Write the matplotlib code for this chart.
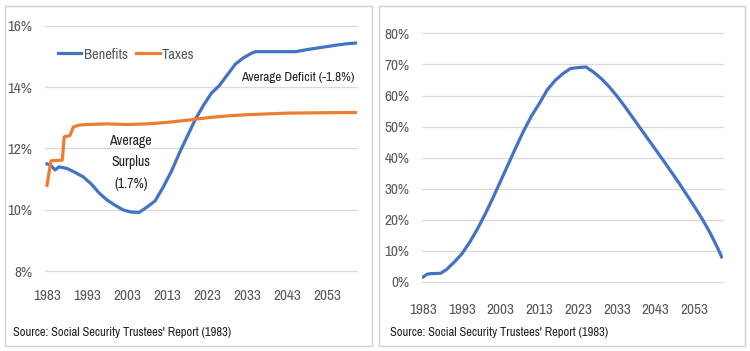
import matplotlib.pyplot as plt
from matplotlib.patches import Rectangle
from matplotlib.ticker import FuncFormatter

plt.rcParams['font.family'] = ['Archivo Narrow', 'DejaVu Sans']

# painel esquerdo: beneficios e impostos (% da folha tributavel)
anos_ben = [1983, 1984, 1985, 1986, 1988, 1990, 1992, 1994, 1996, 1998, 2000, 2002, 2004, 2006,
            2008, 2010, 2012, 2014, 2016, 2018, 2020, 2022, 2024, 2026, 2028, 2030, 2032, 2034,
            2035, 2040, 2045, 2048, 2052, 2055, 2058, 2060]
beneficios = [11.5, 11.45, 11.3, 11.4, 11.35, 11.22, 11.08, 10.85, 10.55, 10.32, 10.15, 10.0, 9.93, 9.92,
              10.1, 10.3, 10.75, 11.25, 11.85, 12.4, 12.95, 13.4, 13.8, 14.05, 14.4, 14.75, 14.95, 15.1,
              15.15, 15.15, 15.15, 15.22, 15.3, 15.36, 15.41, 15.43]

anos_imp = [1983, 1984, 1986.8, 1987.3, 1988.7, 1989.6, 1991, 1993, 1998, 2003, 2008, 2013, 2018,
            2023, 2028, 2033, 2043, 2050, 2060]
impostos = [10.8, 11.6, 11.62, 12.38, 12.42, 12.7, 12.76, 12.78, 12.8, 12.78, 12.8, 12.85, 12.92,
            13.0, 13.06, 13.1, 13.15, 13.16, 13.17]

# painel direito: razao do fundo fiduciario
anos_fundo = [1983, 1984, 1985, 1987.5, 1989, 1991, 1993, 1995, 1997, 1999, 2001, 2003, 2005, 2007,
              2009, 2011, 2013, 2015, 2017, 2019, 2021, 2023, 2025, 2027, 2029, 2031, 2033, 2035,
              2037, 2039, 2041, 2043, 2045, 2047, 2049, 2051, 2053, 2055, 2057, 2059, 2060]
fundo = [1.5, 2.4, 2.6, 2.7, 3.9, 6.3, 9.0, 12.7, 17.0, 21.8, 27.0, 32.5, 38.0, 43.5,
         48.8, 53.5, 57.5, 61.8, 64.8, 67.0, 68.7, 69.0, 69.2, 67.5, 65.4, 62.8, 59.8, 56.5,
         53.0, 49.5, 46.0, 42.5, 39.0, 35.4, 31.8, 28.0, 24.2, 20.2, 15.8, 10.8, 8.0]

anos_ticks = [1983, 1993, 2003, 2013, 2023, 2033, 2043, 2053]
azul = '#4472C4'
laranja = '#ED7D31'
cinza = '#595959'
tam = 11

fig = plt.figure(figsize=(7.5, 3.51), dpi=100)
# molduras dos dois paineis
for x0, w in [(5, 367), (379, 366)]:
    fig.patches.append(Rectangle((x0 / 750, 5 / 351), w / 750, 340 / 351, transform=fig.transFigure,
                                 fill=False, edgecolor='#D0D0D0', lw=1))

def estilo(ax, pad_x):
    for s in ax.spines.values():
        s.set_visible(False)
    ax.grid(axis='y', color='#D9D9D9', lw=0.9, clip_on=False)
    ax.set_axisbelow(True)
    ax.tick_params(length=0, colors=cinza, labelsize=tam)
    ax.tick_params(axis='x', pad=pad_x)
    ax.tick_params(axis='y', pad=9)
    ax.set_xticks(anos_ticks)

ax1 = fig.add_axes([0.06, 0.225, 0.416, 0.704])
ax1.plot(anos_ben, beneficios, color=azul, lw=2.3, label='Benefits')
ax1.plot(anos_imp, impostos, color=laranja, lw=2.3, label='Taxes')
ax1.set_xlim(1982.5, 2060.3)
ax1.set_ylim(7.98, 16.02)
ax1.set_yticks([8, 10, 12, 14, 16])
ax1.yaxis.set_major_formatter(FuncFormatter(lambda v, p: f'{v:.0f}%'))
estilo(ax1, 12)
ax1.legend(loc='center left', bbox_to_anchor=(0.0, 0.88), ncol=2, frameon=False,
           handlelength=1.6, handletextpad=0.15, columnspacing=0.6, fontsize=10.5,
           labelcolor=cinza)
ax1.text(2045.4, 14.31, 'Average Deficit (-1.8%)', ha='center', va='center', fontsize=9.5, color='#222222')
ax1.text(2003.9, 11.55, 'Average\nSurplus\n(1.7%)', ha='center', va='center', fontsize=10,
         color='#222222', linespacing=1.7)

ax2 = fig.add_axes([0.5627, 0.1966, 0.401, 0.709])
ax2.plot(anos_fundo, fundo, color=azul, lw=2.3)
ax2.set_xlim(1982.7, 2060.3)
ax2.set_ylim(-0.1, 80.1)
ax2.set_yticks(range(0, 81, 10))
ax2.yaxis.set_major_formatter(FuncFormatter(lambda v, p: f'{v:.0f}%'))
estilo(ax2, 15)

fig.text(13 / 750, 1 - 333 / 351, "Source: Social Security Trustees' Report (1983)", fontsize=9,
         color='#222222', va='center')
fig.text(390 / 750, 1 - 333 / 351, "Source: Social Security Trustees' Report (1983)", fontsize=9,
         color='#222222', va='center')

plt.savefig('out.png', dpi=100)
